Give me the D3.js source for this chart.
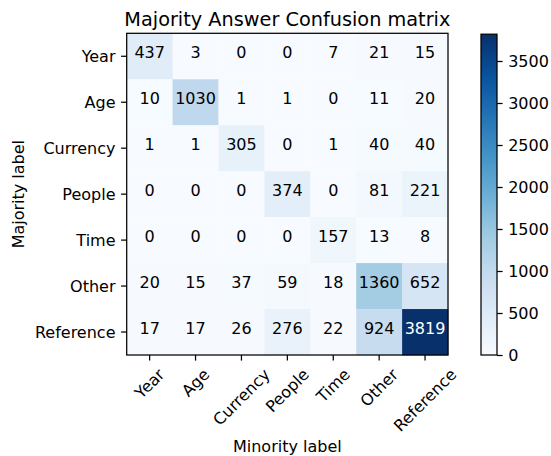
<!DOCTYPE html>
<html>
<head>
<meta charset="utf-8">
<script src="https://cdn.jsdelivr.net/npm/d3@7"></script>
<style>
  html, body { margin: 0; padding: 0; background: #fff; }
  svg { display: block; font-family: "DejaVu Sans", sans-serif; }
</style>
</head>
<body>
<svg id="chart" width="551" height="456"></svg>
<script>
// ---- data ----
const title = "Majority Answer Confusion matrix";
const rowLabels = ["Year", "Age", "Currency", "People", "Time", "Other", "Reference"];
const colLabels = ["Year", "Age", "Currency", "People", "Time", "Other", "Reference"];
const rowYear      = [437, 3, 0, 0, 7, 21, 15];
const rowAge       = [10, 1030, 1, 1, 0, 11, 20];
const rowCurrency  = [1, 1, 305, 0, 1, 40, 40];
const rowPeople    = [0, 0, 0, 374, 0, 81, 221];
const rowTime      = [0, 0, 0, 0, 157, 13, 8];
const rowOther     = [20, 15, 37, 59, 18, 1360, 652];
const rowReference = [17, 17, 26, 276, 22, 924, 3819];
const matrix = [rowYear, rowAge, rowCurrency, rowPeople, rowTime, rowOther, rowReference];
const colorbarTicks = [0, 500, 1000, 1500, 2000, 2500, 3000, 3500];
const xAxisLabel = "Minority label";
const yAxisLabel = "Majority label";

// matplotlib "Blues" colormap stops
const bluesStops = ["#f7fbff", "#deebf7", "#c6dbef", "#9ecae1", "#6baed6", "#4292c6", "#2171b5", "#08519c", "#08306b"];

// ---- layout ----
const svg = d3.select("#chart");
const plot = { left: 126.7, right: 448, top: 33.3, bottom: 355 };
const cb = { left: 481, right: 497, top: 34.2, bottom: 355 };
const fs = 16;
const tickLen = 5.6;

const vmax = d3.max(matrix.flat());
const vmin = 0;

const colorScale = d3.scaleLinear()
  .domain(bluesStops.map((d, i) => vmin + (vmax - vmin) * i / (bluesStops.length - 1)))
  .range(bluesStops)
  .interpolate(d3.interpolateRgb)
  .clamp(true);

const x = d3.scaleBand().domain(d3.range(colLabels.length)).range([plot.left, plot.right]).padding(0);
const y = d3.scaleBand().domain(d3.range(rowLabels.length)).range([plot.top, plot.bottom]).padding(0);

// cells
const cells = [];
matrix.forEach((row, i) => row.forEach((v, j) => cells.push({ i, j, v })));

svg.append("g").selectAll("rect").data(cells).join("rect")
  .attr("x", d => x(d.j))
  .attr("y", d => y(d.i))
  .attr("width", x.bandwidth() + 0.3)
  .attr("height", y.bandwidth() + 0.3)
  .attr("fill", d => colorScale(d.v));

// cell text
const thresh = vmax / 2;
svg.append("g").selectAll("text").data(cells).join("text")
  .attr("x", d => x(d.j) + x.bandwidth() / 2)
  .attr("y", d => y(d.i) + y.bandwidth() / 2 + 1.5)
  .attr("text-anchor", "middle")
  .attr("font-size", fs)
  .attr("fill", d => d.v > thresh ? "#ffffff" : "#000000")
  .text(d => d.v);

// frame
svg.append("rect")
  .attr("x", plot.left).attr("y", plot.top)
  .attr("width", plot.right - plot.left).attr("height", plot.bottom - plot.top)
  .attr("fill", "none").attr("stroke", "#000").attr("stroke-width", 1.25);

// y ticks
const yg = svg.append("g");
rowLabels.forEach((lab, i) => {
  const cy = y(i) + y.bandwidth() / 2;
  yg.append("line").attr("x1", plot.left - tickLen).attr("x2", plot.left)
    .attr("y1", cy).attr("y2", cy).attr("stroke", "#000").attr("stroke-width", 1.25);
  yg.append("text").attr("x", plot.left - tickLen - 5.6).attr("y", cy + 6.2)
    .attr("text-anchor", "end").attr("font-size", fs).attr("fill", "#000").text(lab);
});

// x ticks (rotated 45°, bbox centred on tick)
const xg = svg.append("g");
const textH = 1.164 * fs;
colLabels.forEach((lab, j) => {
  const cx = x(j) + x.bandwidth() / 2;
  xg.append("line").attr("x1", cx).attr("x2", cx)
    .attr("y1", plot.bottom).attr("y2", plot.bottom + tickLen)
    .attr("stroke", "#000").attr("stroke-width", 1.25);
  const t = xg.append("text").attr("text-anchor", "middle")
    .attr("font-size", fs).attr("fill", "#000").attr("dominant-baseline", "central").text(lab);
  const w = t.node().getComputedTextLength();
  const y0 = plot.bottom + tickLen + 4.5;
  const cyText = y0 + (w + textH) / (2 * Math.SQRT2);
  t.attr("transform", `translate(${cx},${cyText}) rotate(-45)`);
});

// axis labels
svg.append("text")
  .attr("x", (plot.left + plot.right) / 2).attr("y", 452)
  .attr("text-anchor", "middle").attr("font-size", fs).attr("fill", "#000")
  .text(xAxisLabel);
svg.append("text")
  .attr("transform", `translate(23.5,${(plot.top + plot.bottom) / 2}) rotate(-90)`)
  .attr("text-anchor", "middle").attr("font-size", fs).attr("fill", "#000")
  .text(yAxisLabel);

// title
svg.append("text")
  .attr("x", (plot.left + plot.right) / 2).attr("y", 26)
  .attr("text-anchor", "middle").attr("font-size", 19.3).attr("fill", "#000")
  .text(title);

// colorbar
const defs = svg.append("defs");
const grad = defs.append("linearGradient").attr("id", "cbgrad")
  .attr("x1", "0").attr("y1", "1").attr("x2", "0").attr("y2", "0");
bluesStops.forEach((c, i) => {
  grad.append("stop").attr("offset", i / (bluesStops.length - 1)).attr("stop-color", c);
});
const cbScale = d3.scaleLinear().domain([vmin, vmax]).range([cb.bottom, cb.top]);
svg.append("rect")
  .attr("x", cb.left).attr("y", cb.top)
  .attr("width", cb.right - cb.left).attr("height", cb.bottom - cb.top)
  .attr("fill", "url(#cbgrad)")
  .attr("stroke", "#000").attr("stroke-width", 1.25);

const cbAxis = d3.axisRight(cbScale).tickValues(colorbarTicks).tickSize(tickLen).tickPadding(5.6)
  .tickFormat(d3.format("d"));
const cbg = svg.append("g").attr("transform", `translate(${cb.right},0)`).call(cbAxis);
cbg.select(".domain").remove();
cbg.selectAll(".tick line").attr("stroke", "#000").attr("stroke-width", 1.25);
cbg.selectAll(".tick text").attr("font-size", fs).attr("fill", "#000")
  .attr("font-family", "DejaVu Sans, sans-serif");
</script>
</body>
</html>
